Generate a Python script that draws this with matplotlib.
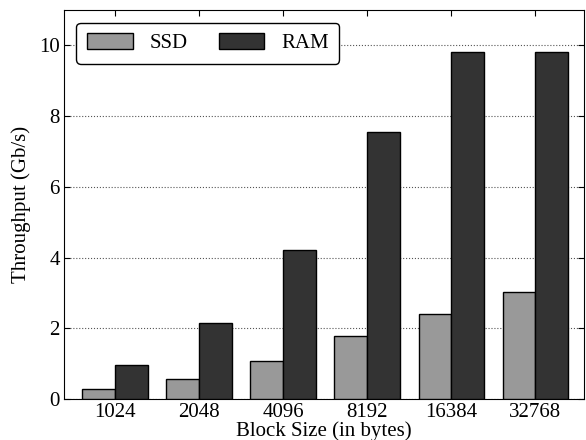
import matplotlib
matplotlib.use("Agg")
import matplotlib.pyplot as plt
import numpy as np

categories = ["1024", "2048", "4096", "8192", "16384", "32768"]
ssd = [0.28, 0.58, 1.07, 1.77, 2.40, 3.03]
ram = [0.97, 2.15, 4.22, 7.55, 9.82, 9.82]

plt.rcParams['font.family'] = ['Liberation Serif', 'DejaVu Serif']
fig = plt.figure(figsize=(5.86, 4.4), dpi=100)
ax = fig.add_axes([0.109, 0.093, 0.888, 0.884])

x = np.arange(len(categories))
w = 0.39
ax.bar(x - w/2, ssd, w, color='#999999', edgecolor='black', linewidth=1.0, label='SSD', zorder=3)
ax.bar(x + w/2, ram, w, color='#333333', edgecolor='black', linewidth=1.0, label='RAM', zorder=3)

ax.set_xticks(x)
ax.set_xticklabels(categories)
ax.set_xlim(-0.607, 5.58)
ax.set_ylim(0, 11)
ax.set_yticks([0, 2, 4, 6, 8, 10])
ax.yaxis.grid(True, linestyle=':', color='#555555', linewidth=0.8, zorder=0)
ax.tick_params(direction='in', labelsize=15, top=True, right=True, length=4, pad=3)
ax.set_xlabel('Block Size (in bytes)', fontsize=15, labelpad=-1)
ax.set_ylabel('Throughput (Gb/s)', fontsize=15, labelpad=6)
leg = ax.legend(loc='upper left', ncol=2, fontsize=15, fancybox=True, framealpha=1,
                edgecolor='black', handlelength=2.2, handleheight=0.8, columnspacing=1.5,
                handletextpad=0.8, borderaxespad=0.6, borderpad=0.5)
leg.get_frame().set_linewidth(1.0)
fig.savefig('out.png', dpi=100)
